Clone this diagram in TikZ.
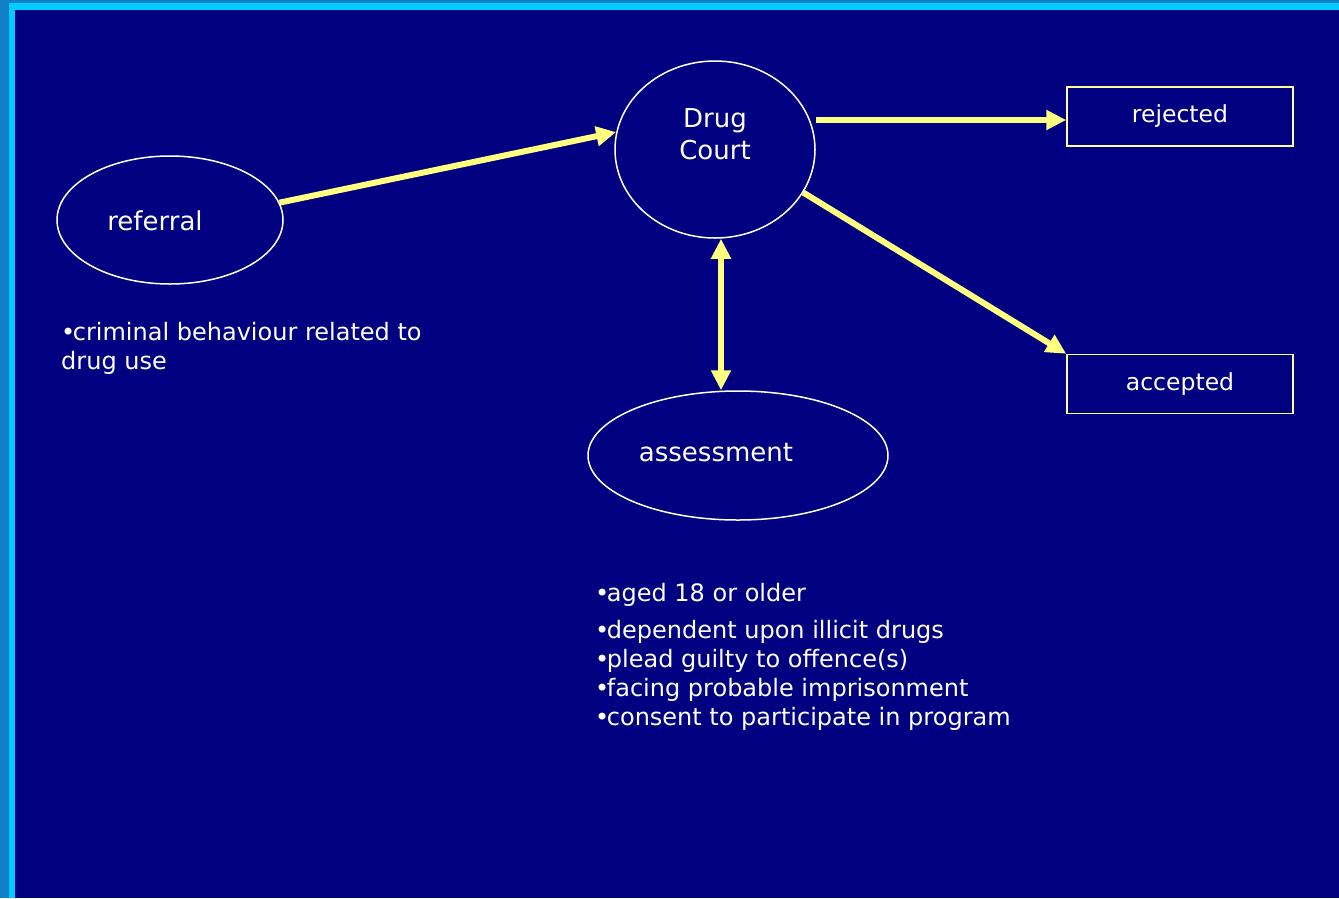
\documentclass[tikz,border=0pt]{standalone}
\usepackage{fontspec}
\setmainfont{DejaVu Sans}
\usetikzlibrary{shapes.geometric,arrows.meta}
\definecolor{slide}{HTML}{000080}
\definecolor{rimdark}{HTML}{1080C8}
\definecolor{rimlight}{HTML}{00CCFF}
\definecolor{arrowyellow}{HTML}{FFFF80}
\definecolor{boxyellow}{HTML}{FFFF99}
\newcommand{\blt}{•\kern-2.5pt}

\begin{document}
\begin{tikzpicture}[x=1pt,y=-1pt,
        oval/.style = {draw=white, line width=1.5pt, ellipse, inner sep=0pt},
        box/.style = {draw=boxyellow, line width=1.5pt, minimum width=226pt, minimum height=59pt},
        link/.style = {draw=arrowyellow, line width=6pt, -{Triangle[length=20pt,width=19pt]}},
        txt/.style = {text=white, font=\fontsize{26}{32}\selectfont, align=center},
        boxtxt/.style = {text=white, font=\fontsize{23.5}{28}\selectfont},
        notes/.style = {text=white, font=\fontsize{24}{29}\selectfont, align=left, inner sep=0pt}]
        % slide background
        \fill[rimdark] (0,0) rectangle (1339,898);
        \fill[rimlight] (9,3) rectangle (1339,898);
        \fill[slide] (15,9.5) rectangle (1339,898);
        \useasboundingbox (0,0) rectangle (1339,898);

        \node[oval, minimum width=226pt, minimum height=128pt] (1) at (170,220) {};
        \node[oval, minimum width=200pt, minimum height=177pt] (2) at (715,149.5) {};
        \node[oval, minimum width=300pt, minimum height=129pt] (3) at (738,455.5) {};
        \node[box] (4) at (1180,116.5) {};
        \node[box] (5) at (1180,384) {};

        \node[txt] (1t) at (155,221) {referral};
        \node[txt] (2t) at (715,134) {Drug\\Court};
        \node[txt] (3t) at (716,453) {assessment};
        \node[boxtxt] (4t) at (1180,116) {rejected};
        \node[boxtxt] (5t) at (1180,384) {accepted};

        \node[notes, anchor=north west] (1n) at (61,322) {\blt criminal behaviour related to\\drug use};
        \node[notes, anchor=north west] (3n) at (595,583) {\blt aged 18 or older\\[8pt]\blt dependent upon illicit drugs\\\blt plead guilty to offence(s)\\\blt facing probable imprisonment\\\blt consent to participate in program};

        \coordinate (d) at ([xshift=6pt]2.south);
        \coordinate (r) at ([yshift=-3.5pt]4.west);
        \draw[link] (1.9) -- (2.170);
        \draw[link] (2.east |- r) -- (r);
        \draw[link] (2.-26) -- (5.north west);
        \draw[link, {Triangle[length=20pt,width=19pt]}-{Triangle[length=20pt,width=19pt]}] (d) -- (d |- 3.north);
\end{tikzpicture}
\end{document}
